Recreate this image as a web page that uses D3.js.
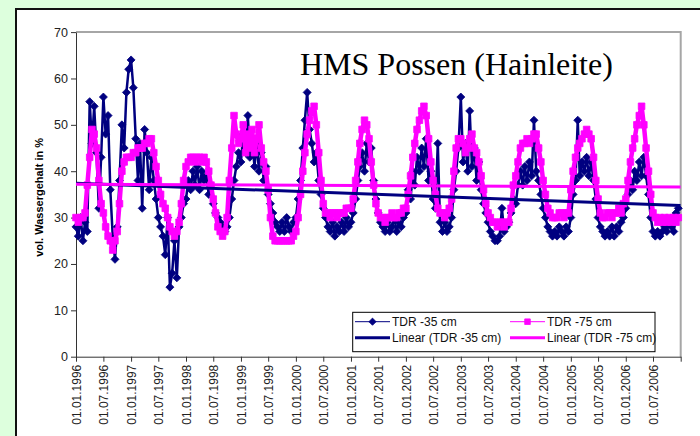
<!DOCTYPE html>
<html lang="de">
<head>
<meta charset="UTF-8">
<title>HMS Possen (Hainleite)</title>
<script src="https://cdn.jsdelivr.net/npm/d3@7/dist/d3.min.js"></script>
<style>
  body { margin:0; background:#ddffdd; }
  svg { display:block; }
  .tick text { font-family:"Liberation Sans", Arial, sans-serif; fill:#222; }
</style>
</head>
<body>
<svg id="chart" width="700" height="436"></svg>
<script>
// Halbmonatswerte (1. und 16. jedes Monats)
var startYear = 1996;

var tdr35 = [
  28, 26, 30, 25, 29, 27, 55, 46, 54, 44, 32, 43, 56, 48, 52, 36, 26, 21, 28, 38, 50, 45, 57, 62, // 1996
  64, 58, 47, 38, 46, 32, 49, 44, 36, 43, 38, 34, 30, 28, 26, 22, 30, 15, 18, 25, 17, 28, 30, 33, // 1997
  34, 38, 36, 40, 37, 41, 36, 40, 38, 39, 35, 37, 33, 31, 30, 29, 28, 27, 28, 30, 34, 38, 41, 44, // 1998
  42, 48, 44, 52, 43, 47, 41, 46, 40, 44, 38, 41, 35, 33, 31, 29, 28, 27, 29, 27, 30, 28, 27, 29, // 1999
  30, 34, 38, 45, 51, 57, 49, 46, 42, 44, 38, 35, 32, 30, 28, 27, 29, 26, 28, 27, 29, 27, 30, 28, // 2000
  29, 31, 34, 38, 41, 44, 40, 46, 42, 45, 38, 34, 31, 29, 28, 27, 29, 27, 28, 30, 27, 29, 28, 30, // 2001
  31, 36, 34, 40, 37, 43, 40, 45, 41, 47, 38, 40, 34, 32, 46, 29, 27, 29, 27, 28, 30, 36, 40, 45, // 2002
  56, 42, 46, 40, 53, 41, 45, 38, 42, 36, 33, 31, 29, 27, 26, 25, 25, 26, 32, 27, 28, 29, 31, 34, // 2003
  33, 37, 40, 37, 41, 38, 42, 39, 51, 40, 38, 35, 32, 30, 28, 27, 26, 27, 26, 28, 27, 26, 28, 27, // 2004
  30, 35, 38, 51, 39, 42, 40, 43, 39, 42, 38, 34, 30, 28, 27, 26, 27, 26, 28, 26, 28, 27, 29, 30, // 2005
  32, 35, 38, 36, 40, 38, 42, 39, 43, 39, 35, 30, 27, 26, 27, 26, 27, 28, 27, 29, 28, 27, 31, 32  // 2006
];

var tdr75 = [
  30, 29, 30, 30, 31, 37, 43, 49, 48, 45, 38, 33, 31, 28, 26, 25, 23, 25, 27, 33, 40, 42, 43, 43, // 1996
  43, 44, 44, 45, 45, 45, 46, 46, 47, 47, 44, 41, 38, 35, 33, 32, 30, 28, 27, 26, 27, 29, 33, 38, // 1997
  41, 42, 43, 43, 42, 43, 43, 42, 43, 42, 40, 37, 34, 31, 28, 27, 26, 27, 30, 38, 45, 52, 48, 46, // 1998
  47, 50, 44, 48, 45, 49, 44, 47, 50, 45, 42, 40, 36, 30, 26, 25, 25, 25, 25, 25, 25, 25, 25, 26, // 1999
  27, 30, 35, 40, 44, 48, 51, 53, 54, 50, 44, 38, 33, 31, 31, 30, 31, 31, 30, 31, 31, 31, 32, 32, // 2000
  32, 34, 38, 42, 46, 49, 51, 50, 47, 42, 37, 33, 31, 30, 30, 29, 30, 30, 31, 30, 30, 31, 31, 32, // 2001
  32, 35, 39, 43, 46, 49, 51, 53, 54, 52, 47, 42, 38, 35, 32, 31, 31, 30, 31, 32, 34, 40, 45, 47, // 2002
  47, 46, 44, 45, 47, 48, 45, 44, 42, 39, 36, 33, 31, 30, 29, 29, 28, 29, 29, 28, 29, 29, 32, 37, // 2003
  39, 42, 45, 46, 46, 47, 46, 47, 48, 48, 45, 42, 38, 35, 32, 31, 30, 30, 30, 31, 31, 30, 31, 31, // 2004
  36, 40, 43, 45, 46, 47, 48, 49, 48, 47, 43, 38, 34, 31, 30, 30, 31, 31, 30, 31, 31, 32, 31, 33, // 2005
  34, 38, 42, 45, 47, 50, 52, 54, 50, 45, 40, 35, 31, 30, 29, 30, 29, 30, 29, 30, 29, 30, 29, 30  // 2006
];

// lineare Trends (Anfangs- und Endwert)
var trendDates = ["01.01.1996", "31.12.2006"];
var trend35 = [37.4, 32.6];
var trend75 = [37.2, 36.6];

var yTicks = [0, 10, 20, 30, 40, 50, 60, 70];
var xTickLabels = [
  "01.01.1996", "01.07.1996", "01.01.1997", "01.07.1997", "01.01.1998", "01.07.1998",
  "01.01.1999", "01.07.1999", "01.01.2000", "01.07.2000", "01.01.2001", "01.07.2001",
  "01.01.2002", "01.07.2002", "01.01.2003", "01.07.2003", "01.01.2004", "01.07.2004",
  "01.01.2005", "01.07.2005", "01.01.2006", "01.07.2006"
];
var xEnd = "01.01.2007";
var legendNames = ["TDR -35 cm", "TDR -75 cm", "Linear (TDR -35 cm)", "Linear (TDR -75 cm)"];

var navy = "#000080", pink = "#ff00ff";
var font = '"Liberation Sans", Arial, sans-serif';

var parse = d3.utcParse("%d.%m.%Y");
function dateAt(k) {
  var y = startYear + Math.floor(k / 24), h = k % 24;
  return new Date(Date.UTC(y, Math.floor(h / 2), h % 2 ? 16 : 1));
}

var svg = d3.select("#chart");

// Diagrammfläche
svg.append("rect")
  .attr("x", 16).attr("y", 9).attr("width", 700).attr("height", 440)
  .attr("fill", "#fff").attr("stroke", "#111").attr("stroke-width", 2);

var x = d3.scaleUtc()
  .domain([parse(xTickLabels[0]), parse(xEnd)])
  .range([76, 680.7]);
var y = d3.scaleLinear().domain([0, 70]).range([356.7, 32.1]);

// Zeichnungsfläche Rahmen (oben, rechts)
svg.append("path")
  .attr("d", "M" + x.range()[0] + "," + y(70) + "H" + x.range()[1] + "V" + y(0))
  .attr("fill", "none").attr("stroke", "#a6a6a6").attr("stroke-width", 2);

// Titel
svg.append("text")
  .attr("x", 300).attr("y", 75)
  .style("font-family", '"Liberation Serif", "Times New Roman", serif')
  .style("font-size", "32px")
  .text("HMS Possen (Hainleite)");

// Achsentitel
svg.append("text")
  .attr("transform", "translate(39," + ((y(0) + y(70)) / 2 + 3) + ") rotate(-90)")
  .attr("text-anchor", "middle").attr("dy", "0.35em")
  .style("font-family", font).style("font-size", "11px").style("font-weight", "bold")
  .text("vol. Wassergehalt in %");

// Achsen
var xTickDates = xTickLabels.map(parse).concat([parse(xEnd)]);
var xAxis = svg.append("g")
  .attr("transform", "translate(0," + y(0) + ")")
  .call(d3.axisBottom(x).tickValues(xTickDates).tickSize(5).tickSizeOuter(0)
    .tickFormat(function (d, i) { return i < xTickLabels.length ? xTickLabels[i] : ""; }));
xAxis.selectAll(".tick text")
  .style("font-size", "12px")
  .attr("text-anchor", "end")
  .attr("transform", "rotate(-90)")
  .attr("x", -8).attr("y", 0).attr("dy", "0.35em");

var yAxis = svg.append("g")
  .attr("transform", "translate(" + x.range()[0] + ",0)")
  .call(d3.axisLeft(y).tickValues(yTicks).tickSize(5).tickSizeOuter(0));
yAxis.selectAll(".tick text").style("font-size", "12.5px").attr("x", -8);

svg.selectAll(".domain, .tick line").attr("stroke", "#333");

// Messreihen
var pts35 = tdr35.map(function (v, i) { return { d: dateAt(i), v: v }; });
var pts75 = tdr75.map(function (v, i) { return { d: dateAt(i), v: v }; });

var line = d3.line().x(function (p) { return x(p.d); }).y(function (p) { return y(p.v); });
var diamond = "M0,-4L4,0L0,4L-4,0Z";
var square = "M-3.3,-3.3H3.3V3.3H-3.3Z";

function drawSeries(pts, color, marker, lw) {
  var g = svg.append("g");
  g.append("path").datum(pts).attr("d", line)
    .attr("fill", "none").attr("stroke", color).attr("stroke-width", lw)
    .attr("stroke-linejoin", "round");
  g.selectAll("path.m").data(pts).enter().append("path")
    .attr("class", "m").attr("d", marker)
    .attr("transform", function (p) { return "translate(" + x(p.d) + "," + y(p.v) + ")"; })
    .attr("fill", color).attr("stroke", color).attr("stroke-width", 0.8);
}
drawSeries(pts35, navy, diamond, 2.5);
drawSeries(pts75, pink, square, 4.5);

// Trendlinien
function drawTrend(vals, color) {
  var pts = vals.map(function (v, i) { return { d: parse(trendDates[i]), v: v }; });
  svg.append("path").datum(pts).attr("d", line)
    .attr("fill", "none").attr("stroke", color).attr("stroke-width", 3);
}
drawTrend(trend35, navy);
drawTrend(trend75, pink);

// Legende
var lg = svg.append("g");
lg.append("rect").attr("x", 352.7).attr("y", 312.3).attr("width", 302.3).attr("height", 39.4)
  .attr("fill", "#fff").attr("stroke", "#000").attr("stroke-width", 1);
var items = [
  { c: navy, w: 1, m: "M0,-3.6L3.6,0L0,3.6L-3.6,0Z", x: 355, y: 321.7 },
  { c: pink, w: 1, m: "M-2.8,-2.8H2.8V2.8H-2.8Z", x: 510, y: 321.7 },
  { c: navy, w: 3, m: null, x: 355, y: 337.7 },
  { c: pink, w: 3, m: null, x: 510, y: 337.7 }
];
items.forEach(function (it, i) {
  lg.append("line").attr("x1", it.x).attr("x2", it.x + 35).attr("y1", it.y).attr("y2", it.y)
    .attr("stroke", it.c).attr("stroke-width", it.w);
  if (it.m) {
    lg.append("path").attr("d", it.m)
      .attr("transform", "translate(" + (it.x + 17.5) + "," + it.y + ")")
      .attr("fill", it.c).attr("stroke", it.c).attr("stroke-width", 0.8);
  }
  lg.append("text").attr("x", it.x + 37).attr("y", it.y).attr("dy", "0.35em")
    .style("font-family", font).style("font-size", "12px").attr("fill", "#111")
    .text(legendNames[i]);
});
</script>
</body>
</html>
